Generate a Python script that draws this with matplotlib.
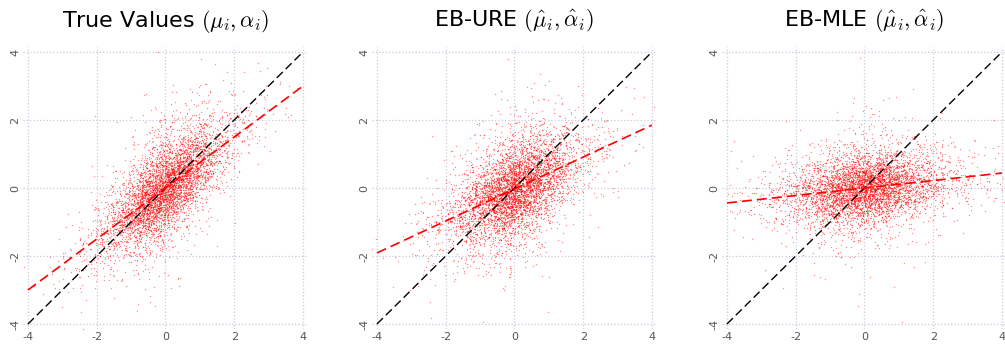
import numpy as np
import matplotlib
matplotlib.use("Agg")
import matplotlib.pyplot as plt

plt.rcParams['axes.unicode_minus'] = False
plt.rcParams['mathtext.fontset'] = 'cm'

# ---- data ----
titles = [r"True Values $(\mu_i, \alpha_i)$",
          r"EB-URE $(\hat{\mu}_i, \hat{\alpha}_i)$",
          r"EB-MLE $(\hat{\mu}_i, \hat{\alpha}_i)$"]
# fitted (red dashed) regression lines: y = intercept + slope * x
line_slopes = [0.75, 0.47, 0.11]
line_intercepts = [0.0, -0.03, 0.0]
# summary of each point cloud (estimated): sd of x, sd of y
cloud_sd_x = [0.85, 0.85, 1.10]
cloud_sd_y = [0.90, 0.80, 0.55]
n_points = 5000
tick_values = [-4, -2, 0, 2, 4]
tick_labels = ["-4", "-2", "0", "2", "4"]

fig = plt.figure(figsize=(10.05, 3.44), dpi=100)
lefts_px = [22.8, 371.8, 721.8]
lim = 4.15
w_px = 34.375 * 2 * lim
h_px = 34.0 * 2 * lim

rng = np.random.default_rng(7)
for k in range(3):
    ax = fig.add_axes([lefts_px[k] / 1005, (344 - 329.1) / 344, w_px / 1005, h_px / 344])
    sx, sy, b = cloud_sd_x[k], cloud_sd_y[k], line_slopes[k]
    x = rng.standard_t(8, n_points) * sx
    resid_sd = np.sqrt(max(sy**2 - (b * sx)**2, 1e-3))
    y = line_intercepts[k] + b * x + rng.standard_t(8, n_points) * resid_sd
    ax.scatter(x, y, s=1.0, c='red', alpha=0.45, linewidths=0, rasterized=True)
    xs = np.array(tick_values[::4], dtype=float)
    ax.plot(xs, xs, color='black', ls=(0, (6, 3)), lw=1.0)
    ax.plot(xs, line_intercepts[k] + b * xs, color='red', ls=(0, (6, 3)), lw=1.2)
    ax.set_xlim(-lim, lim)
    ax.set_ylim(-lim, lim)
    ax.set_xticks(tick_values)
    ax.set_yticks(tick_values)
    ax.set_xticklabels(tick_labels)
    ax.set_yticklabels(tick_labels, rotation=90, va='center')
    ax.tick_params(length=0, labelsize=8, labelcolor='#555555', pad=2)
    ax.grid(True, color='#c9c9dd', ls=':', lw=0.9)
    ax.set_axisbelow(True)
    for s in ax.spines.values():
        s.set_visible(False)
    ax.set_title(titles[k], fontsize=16, pad=14)

fig.savefig("out.png", dpi=100)
